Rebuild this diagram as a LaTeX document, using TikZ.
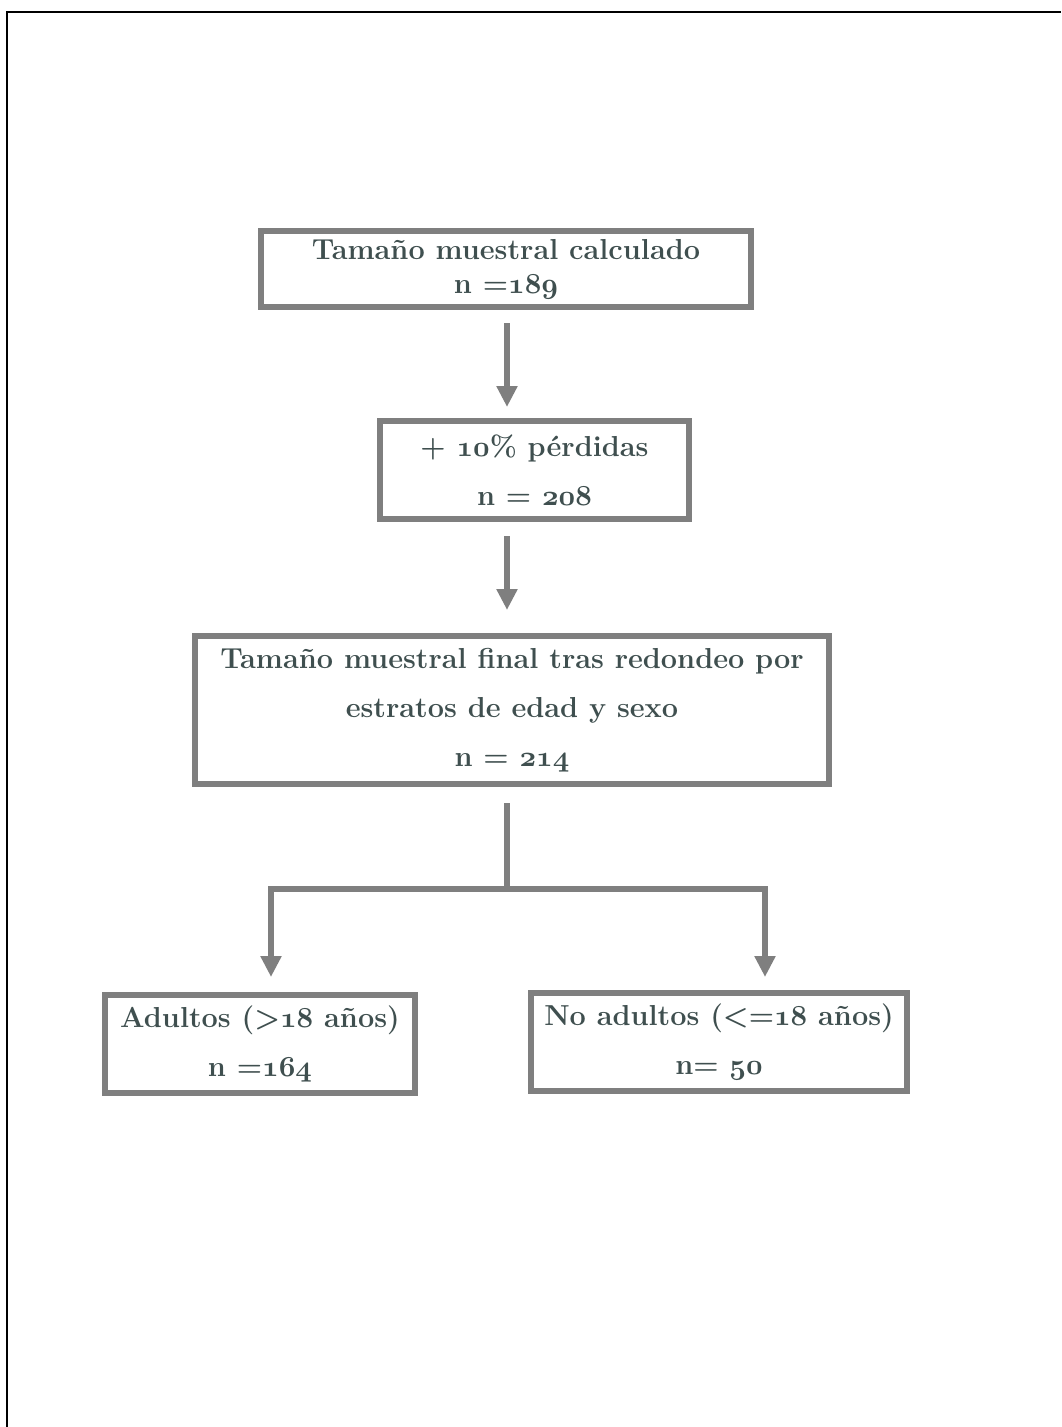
\documentclass[tikz,border=0pt]{standalone}
\usepackage{fontspec}
\usetikzlibrary{arrows.meta}
\definecolor{boxgray}{HTML}{7F7F7F}
\definecolor{txtcol}{HTML}{3F4F4F}
\DeclareFontFamily{OML}{myosf}{}
\DeclareFontShape{OML}{myosf}{b}{it}{<-> cmmib10}{}
\newcommand\osf[1]{{\fontencoding{OML}\fontfamily{myosf}\fontseries{b}\fontshape{it}\selectfont #1}}
\tikzset{
  box/.style={draw=boxgray, line width=6bp, fill=white, inner sep=0pt, align=center,
    text=txtcol, font=\fontsize{29}{49}\selectfont\bfseries},
  conn/.style={draw=boxgray, line width=6bp},
  arr/.style={conn, -{Triangle[width=20bp,length=21bp]}}
}
\begin{document}
\begin{tikzpicture}[x=1bp,y=-1bp]
\useasboundingbox (0,0) rectangle (1061,1427);
\draw[line width=2.2bp] (7,1427) -- (7,12) -- (1061,12);

\coordinate (sp) at (507,0);
\coordinate (split) at (507,889);
\coordinate (jl) at (271,889);
\coordinate (jr) at (765,889);

\node[box, minimum width=490bp, minimum height=76bp, font=\fontsize{29}{34}\selectfont\bfseries] (b1) at (506,269)
  {Tamaño muestral calculado\\ n =\osf{189}};
\node[box, minimum width=309bp, minimum height=98bp] (b2) at (534.5,470)
  {+ \osf{10}\% pérdidas\\ n = \osf{208}};
\node[box, minimum width=634bp, minimum height=148bp] (b3) at (512,710)
  {Tamaño muestral final tras redondeo por\\ estratos de edad y sexo\\ n = \osf{214}};
\node[box, minimum width=310bp, minimum height=98bp] (b4) at (260,1044)
  {Adultos (>\osf{18} años)\\ n =\osf{164}};
\node[box, minimum width=376bp, minimum height=98bp] (b5) at (719,1042)
  {No adultos (<=\osf{18} años)\\ n= \osf{50}};

\draw[arr] ([yshift=-13bp]b1.south -| sp) -- ([yshift=11bp]b2.north -| sp);
\draw[arr] ([yshift=-14bp]b2.south -| sp) -- ([yshift=23bp]b3.north -| sp);
\draw[conn] ([yshift=-16bp]b3.south -| sp) -- (split);
\draw[arr] (split) -- (jl) -- ([yshift=15bp]b4.north -| jl);
\draw[arr] (split) -- (jr) -- ([yshift=13bp]b5.north -| jr);
\end{tikzpicture}
\end{document}
